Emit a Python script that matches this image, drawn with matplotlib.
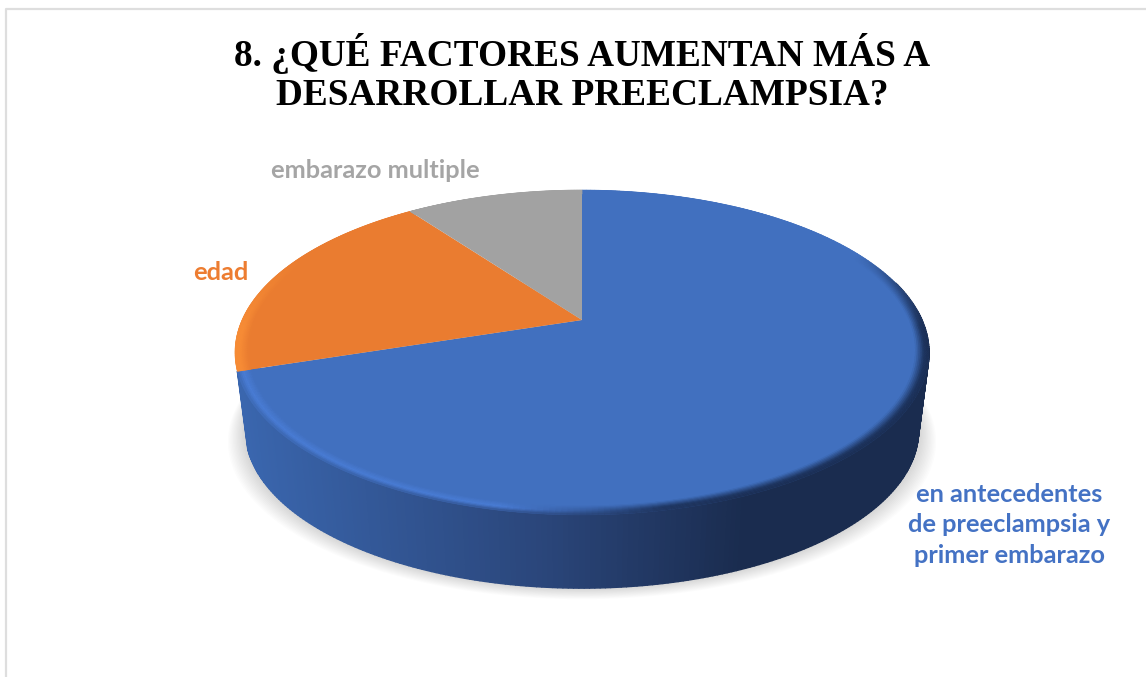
import matplotlib
matplotlib.use("Agg")
import matplotlib.pyplot as plt
from matplotlib.collections import PolyCollection
from matplotlib.colors import to_rgb
import numpy as np

title_lines = ["8. ¿QUÉ FACTORES AUMENTAN MÁS A", "DESARROLLAR PREECLAMPSIA?"]
categories = ["en antecedentes\nde preeclampsia y\nprimer embarazo", "edad", "embarazo multiple"]
values = [70, 20, 10]

C_TOP = ["#4170BF", "#EA7C30", "#A2A2A2"]
C_TEXT = ["#4472C4", "#ED7D31", "#A5A5A5"]
C_RIM = ["#4A7DD6", "#F78C36", "#ABABAB"]

# pie projection, in pixels of the picture
CX, CY = 582, 320
A, B, K = 340, 156, 0.2
FLOOR_SCALE, FLOOR_DROP = 0.97, 79


def project(theta, r=1.0, scale=1.0, drop=0.0):
    x = r * np.sin(theta)
    y = r * np.cos(theta)
    w = 1 + K * y
    return CX + scale * A * x / w, CY + drop - scale * B * y / w


def ring(theta, **kw):
    return np.column_stack(project(theta, **kw))


def mix(a, b, t):
    a, b = np.array(to_rgb(a)), np.array(to_rgb(b))
    return a + (b - a) * t


def wall_color(px):
    # dark to the right, blue-ish to the left
    t = np.clip((px - 240) / 560, 0, 1)
    if t < 0.55:
        return mix("#3A66AE", "#2A4579", t / 0.55)
    return mix("#2A4579", "#1A2C4F", min((t - 0.55) / 0.35, 1))


fig = plt.figure(figsize=(11.46, 6.77), dpi=100)
ax = fig.add_axes([0, 0, 1, 1])
ax.set_xlim(0, 1146)
ax.set_ylim(677, 0)
ax.axis("off")

# chart frame
ax.plot([5.5, 5.5, 1146], [677, 8.5, 8.5], color="#DEDEDE", lw=1.6, zorder=1)

edges = np.cumsum([0] + values) / sum(values) * 2 * np.pi

# soft shadow under the pie
full = np.linspace(0, 2 * np.pi, 361)
for grow in np.linspace(18, 1, 14):
    pts = ring(full, scale=FLOOR_SCALE, drop=FLOOR_DROP)
    pts[:, 0] = CX + (pts[:, 0] - CX) * (1 + grow / 345)
    pts[:, 1] = pts[:, 1] + grow * 0.62
    ax.fill(pts[:, 0], pts[:, 1], color="#000000", alpha=0.011, lw=0, zorder=2)

# orange sliver of side wall, then the blue wall in front of it
th = np.linspace(edges[1], edges[1] + 0.42, 30)
side = np.vstack([ring(th), ring(th[::-1], scale=FLOOR_SCALE, drop=FLOOR_DROP)])
ax.fill(side[:, 0], side[:, 1], color="#F08130", lw=0, zorder=3)

th = np.linspace(np.pi / 2 - 0.25, edges[1], 240)
quads, colors = [], []
for t0, t1 in zip(th[:-1], th[1:]):
    top = ring(np.array([t0, t1]))
    bot = ring(np.array([t1, t0]), scale=FLOOR_SCALE, drop=FLOOR_DROP)
    quads.append(np.vstack([top, bot]))
    colors.append(wall_color(top[:, 0].mean()))
ax.add_collection(PolyCollection(quads, facecolors=colors, edgecolors=colors, linewidths=1.0, zorder=4))

# top face, one wedge per value
for i in range(len(values)):
    th = np.linspace(edges[i], edges[i + 1], 200)
    pts = np.vstack([[CX, CY], ring(th)])
    ax.fill(pts[:, 0], pts[:, 1], color=C_TOP[i], lw=0, zorder=5)

# bevel along the rim
radii = np.linspace(0.962, 1.0, 9)
for i in range(len(values)):
    th = np.linspace(edges[i], edges[i + 1], 300)
    quads, colors = [], []
    for t0, t1 in zip(th[:-1], th[1:]):
        tm = (t0 + t1) / 2
        sx = np.sin(tm)
        sy = np.cos(tm)
        strength = np.clip((0.45 - sy) / 0.5, 0.0, 1.0)
        if i == 0:
            # bright on the left, dark on the right
            rim = mix(C_RIM[0], "#1E3560", np.clip((sx + 0.2) / 0.4, 0, 1))
        else:
            rim = np.array(to_rgb(C_RIM[i]))
        px = project(tm)[0]
        for r0, r1 in zip(radii[:-1], radii[1:]):
            p = ((r0 + r1) / 2 - radii[0]) / (radii[-1] - radii[0])
            c = mix(C_TOP[i], rim, strength * min(p * 1.6, 1))
            if i == 0 and p > 0.6:
                # highlight melts into the side wall at the very edge
                c = mix(c, wall_color(px), strength * (p - 0.6) / 0.4 * 0.8)
            quads.append(np.vstack([ring(np.array([t0, t1]), r=r0), ring(np.array([t1, t0]), r=r1)]))
            colors.append(c)
    ax.add_collection(PolyCollection(quads, facecolors=colors, edgecolors=colors, linewidths=0.4, zorder=6))

for line, y in zip(title_lines, [66, 105]):
    ax.text(582, y, line, ha="center", va="baseline", family="Liberation Serif",
            weight="bold", fontsize=26.8, color="black", zorder=8)

label_pos = [(1009, 525), (221, 273), (375, 170)]
for name, (x, y), c in zip(categories, label_pos, C_TEXT):
    ax.text(x, y, name, ha="center", va="center", family="Lato", weight="bold",
            fontsize=18.3, color=c, linespacing=1.39, zorder=8)

fig.savefig("out.png", dpi=100)
